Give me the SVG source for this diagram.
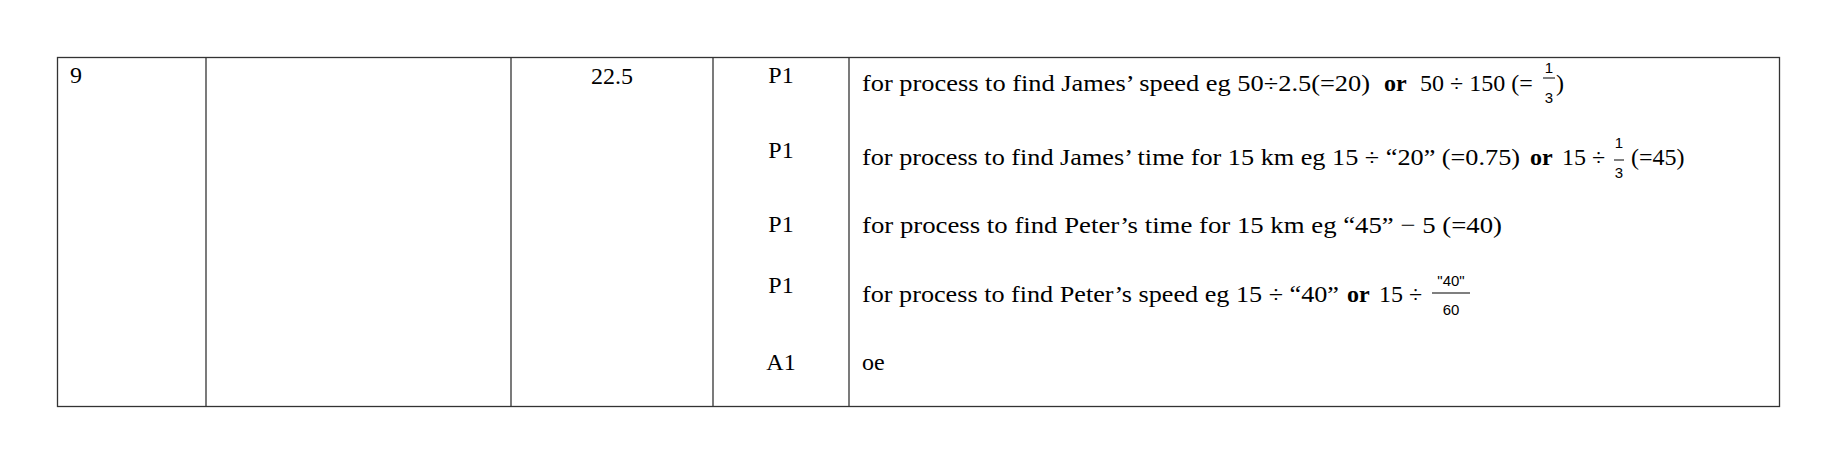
<svg xmlns="http://www.w3.org/2000/svg" width="1837" height="464" viewBox="0 0 1837 464">
<style>
text{font-family:'Liberation Serif',Tinos,'Times New Roman',serif;font-size:24px;fill:#000}
.b{font-weight:bold}
.s{font-size:15px;font-family:'Liberation Sans',Arimo,sans-serif}
.c{text-anchor:middle}
line{stroke:#333;stroke-width:1.3}
</style>
<rect width="1837" height="464" fill="#fff"/>
<g id="table">
<rect x="57.5" y="57.5" width="1722" height="349" fill="none" stroke="#333" stroke-width="1.3"/>
<line x1="206" y1="57" x2="206" y2="407"/>
<line x1="511" y1="57" x2="511" y2="407"/>
<line x1="713" y1="57" x2="713" y2="407"/>
<line x1="849" y1="57" x2="849" y2="407"/>
</g>
<g id="col1"><text x="70" y="83">9</text></g>
<g id="col3"><text x="612" y="84" class="c">22.5</text></g>
<g id="marks">
<text x="781" y="83" class="c">P1</text>
<text x="781" y="158" class="c">P1</text>
<text x="781" y="232" class="c">P1</text>
<text x="781" y="293" class="c">P1</text>
<text x="781" y="370" class="c">A1</text>
</g>
<g id="row1">
<text x="862" y="91" textLength="508" lengthAdjust="spacingAndGlyphs">for process to find James’ speed eg 50÷2.5(=20)</text>
<text x="1384" y="91" class="b">or</text>
<text x="1420" y="91">50 ÷ 150 (=</text>
<text x="1549" y="73" class="s c">1</text>
<line x1="1543" y1="78" x2="1555" y2="78" style="stroke:#000;stroke-width:1"/>
<text x="1549" y="103" class="s c">3</text>
<text x="1556" y="91">)</text>
</g>
<g id="row2">
<text x="862" y="165" textLength="658" lengthAdjust="spacingAndGlyphs">for process to find James’ time for 15 km eg 15 ÷ “20” (=0.75)</text>
<text x="1530" y="165" class="b">or</text>
<text x="1562" y="165">15 ÷</text>
<text x="1619" y="148" class="s c">1</text>
<line x1="1614" y1="160" x2="1624" y2="160" style="stroke:#000;stroke-width:1"/>
<text x="1619" y="178" class="s c">3</text>
<text x="1631" y="165">(=45)</text>
</g>
<g id="row3">
<text x="862" y="233" textLength="640" lengthAdjust="spacingAndGlyphs">for process to find Peter’s time for 15 km eg  “45” − 5  (=40)</text>
</g>
<g id="row4">
<text x="862" y="302" textLength="477" lengthAdjust="spacingAndGlyphs">for process to find Peter’s speed eg 15 ÷ “40”</text>
<text x="1347" y="302" class="b">or</text>
<text x="1379" y="302">15 ÷</text>
<text x="1451" y="286" class="s c">"40"</text>
<line x1="1432" y1="293" x2="1470" y2="293" style="stroke:#000;stroke-width:1.2"/>
<text x="1451" y="315" class="s c">60</text>
</g>
<g id="row5"><text x="862" y="370">oe</text></g>
</svg>
